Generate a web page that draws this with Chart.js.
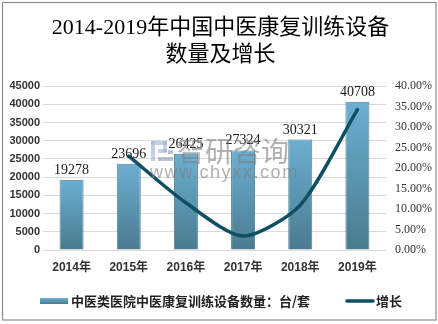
<!DOCTYPE html>
<html>
<head>
<meta charset="utf-8">
<script src="https://cdn.jsdelivr.net/npm/chart.js@4.4.1/dist/chart.umd.min.js"></script>
<style>
  html, body { margin: 0; padding: 0; background: #fff; }
  #wrap { width: 438px; height: 324px; position: relative; }
</style>
</head>
<body>
<div id="wrap"><canvas id="chart" width="438" height="324"></canvas></div>
<script>
// chart data
const years = ["2014年", "2015年", "2016年", "2017年", "2018年", "2019年"];
const deviceCounts = [19278, 23696, 26425, 27324, 30321, 40708];
const growthRates = [null, 22.92, 11.52, 3.40, 10.97, 34.26];
const barLabel = "中医类医院中医康复训练设备数量：台/套";
const lineLabel = "增长";
const titleLines = ["2014-2019年中国中医康复训练设备", "数量及增长"];

const serif = "'Liberation Serif', 'Noto Sans CJK SC', serif";
const sans = "'Liberation Sans', 'Noto Sans CJK SC', sans-serif";
const barTop = "#6cafd1";
const barBottom = "#4a7b8f";
const lineColor = "#0e4f63";

// vertical gradient per bar, from its top down to the zero line
function barGradient(ctx)
{
    let chart = ctx.chart;
    if (!chart.chartArea || ctx.parsed === undefined) return barTop;
    let y = chart.scales.y;
    let top = y.getPixelForValue(ctx.parsed.y);
    let base = y.getPixelForValue(0);
    let g = chart.ctx.createLinearGradient(0, top, 0, base);
    g.addColorStop(0, barTop);
    g.addColorStop(1, barBottom);
    return g;
}

// numbers above bars
const valueLabels = {
    id: "valueLabels",
    afterDatasetsDraw(chart)
    {
        let ctx = chart.ctx;
        let meta = chart.getDatasetMeta(1);
        ctx.save();
        ctx.font = "14px " + serif;
        ctx.fillStyle = "#1a1a1a";
        ctx.textAlign = "center";
        ctx.textBaseline = "alphabetic";
        meta.data.forEach((bar, i) => {
            ctx.fillText(String(deviceCounts[i]), bar.x, bar.y - 6);
        });
        ctx.restore();
    }
};

// site watermark
const watermark = {
    id: "watermark",
    afterDraw(chart)
    {
        let ctx = chart.ctx;
        ctx.save();
        ctx.globalAlpha = 0.6;
        // logo blocks
        ctx.fillStyle = "#9fb3d6";
        ctx.fillRect(151, 141, 4, 20);
        ctx.fillRect(151, 141, 16, 4);
        ctx.fillRect(163, 141, 4, 11);
        ctx.fillRect(158, 149, 9, 4);
        ctx.fillStyle = "#8e9bb0";
        ctx.fillRect(158, 157, 15, 4);
        ctx.fillRect(168, 150, 5, 4);
        // brand text
        ctx.fillStyle = "#7d7d7d";
        ctx.font = "28px 'Noto Sans CJK SC', sans-serif";
        ctx.textBaseline = "middle";
        ctx.textAlign = "left";
        ctx.fillText("智研咨询", 177, 151);
        ctx.font = "18px " + sans;
        ctx.letterSpacing = "1.6px";
        ctx.fillText("www.chyxx.com", 150, 173);
        ctx.restore();
    }
};

// legend under the plot plus the outer frame
const legendAndFrame = {
    id: "legendAndFrame",
    afterDraw(chart)
    {
        let ctx = chart.ctx;
        ctx.save();
        let y = 301;
        let g = ctx.createLinearGradient(0, y - 3, 0, y + 3);
        g.addColorStop(0, barTop);
        g.addColorStop(1, barBottom);
        ctx.fillStyle = g;
        ctx.fillRect(40, y - 3, 28, 6);
        ctx.font = "bold 13px 'Noto Sans CJK SC', sans-serif";
        ctx.fillStyle = "#222";
        ctx.textBaseline = "middle";
        ctx.fillText(barLabel, 71, y);

        ctx.strokeStyle = lineColor;
        ctx.lineWidth = 3.5;
        ctx.lineCap = "round";
        ctx.beginPath();
        ctx.moveTo(347, y);
        ctx.lineTo(373, y);
        ctx.stroke();
        ctx.fillText(lineLabel, 376, y);

        ctx.strokeStyle = "#8c8c8c";
        ctx.lineWidth = 1.2;
        ctx.strokeRect(2.5, 2.5, 433.5, 317.5);
        ctx.restore();
    }
};

let chartElement = document.getElementById("chart").getContext("2d");

let comboChart = new Chart(chartElement,
    {
        type: "bar",
        data:
            {
                labels: years,
                datasets:
                    [
                        {
                            type: "line",
                            label: lineLabel,
                            data: growthRates,
                            yAxisID: "y1",
                            borderColor: lineColor,
                            backgroundColor: lineColor,
                            borderWidth: 3.5,
                            borderCapStyle: "round",
                            tension: 0.25,
                            pointRadius: 0,
                            spanGaps: false,
                            order: 0
                        },
                        {
                            label: barLabel,
                            data: deviceCounts,
                            yAxisID: "y",
                            backgroundColor: barGradient,
                            borderColor: "#4d8298",
                            borderWidth: 1,
                            barPercentage: 0.42,
                            categoryPercentage: 1.0,
                            order: 1
                        }
                    ]
            },
        options:
            {
                responsive: false,
                animation: false,
                layout: { padding: { left: 3, right: 0, top: 0, bottom: 50 } },
                plugins:
                    {
                        legend: { display: false },
                        tooltip: { enabled: false },
                        title:
                            {
                                display: true,
                                text: titleLines,
                                color: "#000",
                                font: { family: serif, size: 22, weight: "normal", lineHeight: 1.23 },
                                padding: { top: 15, bottom: 17 }
                            }
                    },
                scales:
                    {
                        x:
                            {
                                grid: { display: false, drawTicks: false },
                                border: { display: false },
                                ticks: { color: "#333", padding: 10, maxRotation: 0, autoSkip: false, font: { family: sans, size: 12, weight: "bold" } },
                                afterFit: (scale) => { scale.height = 24; }
                            },
                        y:
                            {
                                position: "left",
                                min: 0,
                                max: 45000,
                                grid: { color: "#d9d9d9", drawTicks: false },
                                border: { display: false },
                                ticks: { stepSize: 5000, color: "#333", padding: 3, font: { family: sans, size: 11, weight: "bold" }, callback: (v) => String(v) },
                                afterFit: (scale) => { scale.width = 40; }
                            },
                        y1:
                            {
                                position: "right",
                                min: 0,
                                max: 40,
                                grid: { display: false, drawTicks: false },
                                border: { display: false },
                                ticks:
                                    {
                                        stepSize: 5,
                                        color: "#333",
                                        padding: 9,
                                        font: { family: serif, size: 12 },
                                        callback: (v) => v.toFixed(2) + "%"
                                    },
                                afterFit: (scale) => { scale.width = 52; }
                            }
                    }
            },
        plugins: [valueLabels, watermark, legendAndFrame]
    });
</script>
</body>
</html>
